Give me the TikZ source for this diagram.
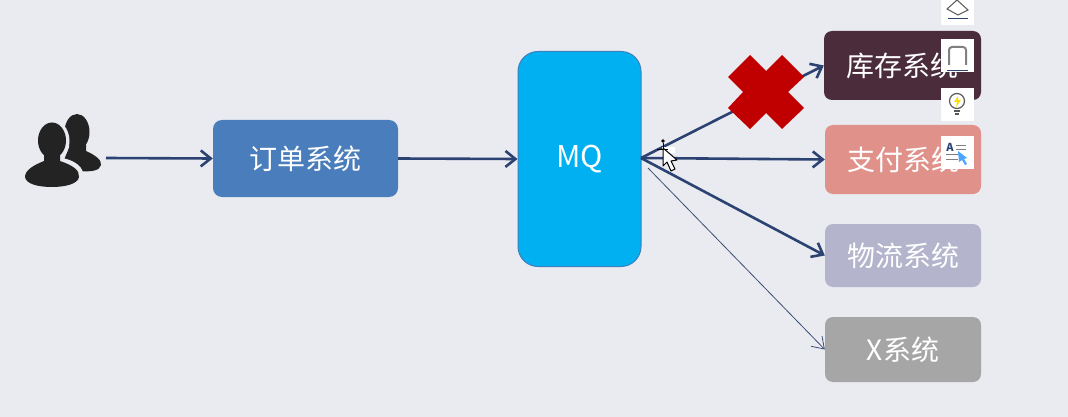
\documentclass[tikz,border=0pt]{standalone}
\usepackage{fontspec}
\setmainfont{Noto Sans CJK SC}[Scale=1]
\usetikzlibrary{arrows.meta,shapes.geometric}
\definecolor{bg}{HTML}{E9EBF0}
\definecolor{arrowc}{HTML}{2B4272}
\definecolor{iconk}{HTML}{232323}
\tikzset{
 sysbox/.style={rounded corners=8pt,minimum width=156pt,inner sep=0pt,text=white,font=\fontsize{28}{30}\selectfont},
 flow/.style={draw=arrowc,line width=2.6pt,-{Straight Barb[length=10pt,width=16pt,line width=2.6pt]}},
 thinflow/.style={draw=#1,line width=0.8pt,-{Straight Barb[length=11pt,width=15pt,line width=0.8pt]}},
 toolbtn/.style={fill=white,minimum width=33pt,minimum height=33pt,inner sep=0pt},
}
\begin{document}
\begin{tikzpicture}[x=1pt,y=-1pt]
\useasboundingbox (0,0) rectangle (1068,417);
\fill[bg] (0,0) rectangle (1068,417);
% users icon: back figure
\fill[iconk] (77,132) ellipse (12.5 and 18);
\fill[iconk] (70,145) -- (86,145) -- (86,151) .. controls (95,155) and (102,160) .. (101,165) .. controls (100,171) and (90,172) .. (80,171) .. controls (74,170) and (68,166) .. (64,160) -- cycle;
% bg halo of the front figure
\fill[bg] (52,141) ellipse (17.5 and 21.5);
\fill[bg] (52,174) ellipse (31 and 17);
\fill[bg] (42,150) rectangle (64,170);
% front figure
\fill[iconk] (52,140.5) ellipse (14 and 18);
\fill[iconk] (44,150) -- (60,150) -- (60,161) .. controls (72,165) and (80,170) .. (79,177) .. controls (78,184) and (65,187) .. (52,187) .. controls (38,187) and (26,184) .. (25,177) .. controls (25,170) and (34,165) .. (44,161) -- cycle;
\coordinate (userEnd) at (106,158);
\node[sysbox,minimum width=185pt,minimum height=77pt,fill={rgb,255:red,74;green,125;blue,187},rounded corners=9pt] (order) at (305.5,158.5) {订单系统};
\node[draw={rgb,255:red,62;green,128;blue,190},line width=1pt,fill={rgb,255:red,0;green,176;blue,240},rounded corners=20pt,minimum width=123pt,minimum height=215pt,inner sep=0pt,text=white,font=\fontsize{30}{32}\selectfont] (mq) at (579.5,159) {MQ};
\node[sysbox,minimum width=157pt,minimum height=69pt,fill={rgb,255:red,74;green,44;blue,58}] (stock) at (902.5,65.5) {库存系统};
\node[sysbox,minimum height=69pt,fill={rgb,255:red,224;green,145;blue,138}] (pay) at (903,159.5) {支付系统};
\node[sysbox,minimum height=63pt,fill={rgb,255:red,180;green,180;blue,204}] (logistics) at (903,255.5) {物流系统};
\node[sysbox,minimum height=65pt,fill={rgb,255:red,166;green,166;blue,166}] (xsys) at (903,349.5) {X系统};
\coordinate (hub) at (641,158);
\coordinate (thinstart) at (648,168);
\draw[flow] (userEnd) -- (order.west);
\draw[flow] (order.east) -- (mq.west);
\draw[flow] (hub) -- (stock.west);
\draw[flow] (hub) -- (pay.west);
\draw[flow] (hub) -- (logistics.west);
\draw[thinflow=arrowc!80!gray] (thinstart) -- (xsys.west);
% red cross
\fill[fill={rgb,255:red,192;green,0;blue,0}] (750,55) -- (766,71) -- (782,55) -- (804,77) -- (788,92) -- (804,108) -- (782,129) -- (766,113) -- (750,129) -- (728,108) -- (743,92) -- (728,77) -- cycle;
% toolbar buttons
\node[toolbtn,minimum height=25pt] (b1) at (957.5,12.5) {};
\node[toolbtn] (b2) at (957.5,55.5) {};
\node[toolbtn] (b3) at (957.5,105) {};
\node[toolbtn] (b4) at (957.5,152.5) {};
% b1 glyph
\draw[gray!70!black,line width=1pt] (947,9) -- (957,0) -- (968,10) -- (958,15) -- cycle;
\draw[arrowc,line width=1pt] (948,18.5) -- (968,18.5);
% b2 glyph
\draw[gray,line width=2pt,rounded corners=3pt] (949,65) -- (949,47) -- (966,47) -- (966,65);
\draw[arrowc,line width=1pt] (947,71) -- (968,71);
% b3 glyph
\draw[gray!70!black,line width=1.2pt] (957,101) circle (7.5);
\fill[yellow!80!orange] (958,96) -- (954,102) -- (957,102) -- (956,107) -- (961,100) -- (958,100) -- cycle;
\draw[gray!70!black,line width=1.5pt] (954,111) -- (960,111);
\draw[gray!70!black,line width=1.2pt] (955,114) -- (959,114);
% b4 glyph
\node[inner sep=0pt,text=arrowc,font=\bfseries\fontsize{11}{11}\selectfont] (glyphA) at (950,147) {A};
\draw[gray,line width=1pt] (956,146) -- (966,146) (956,150) -- (966,150) (946,155) -- (962,155) (946,159) -- (958,159);
\fill[blue!50!cyan!70] (958,151) -- (967,158) -- (964,159) -- (967,164) -- (965,165) -- (962,160) -- (959,162) -- cycle;
% cursor
\fill[white] (662,147) rectangle (675,153);
\draw[black,line width=0.8pt] (663,143) -- (663,152) (657,149) -- (668,149);
\fill[black] (663,141) circle (1.8);
\draw[black,fill=white,line width=1pt,line join=round] (663,148) -- (663,166) -- (667,162) -- (671,171) -- (675,169) -- (671,161) -- (677,160) -- cycle;
\end{tikzpicture}
\end{document}
